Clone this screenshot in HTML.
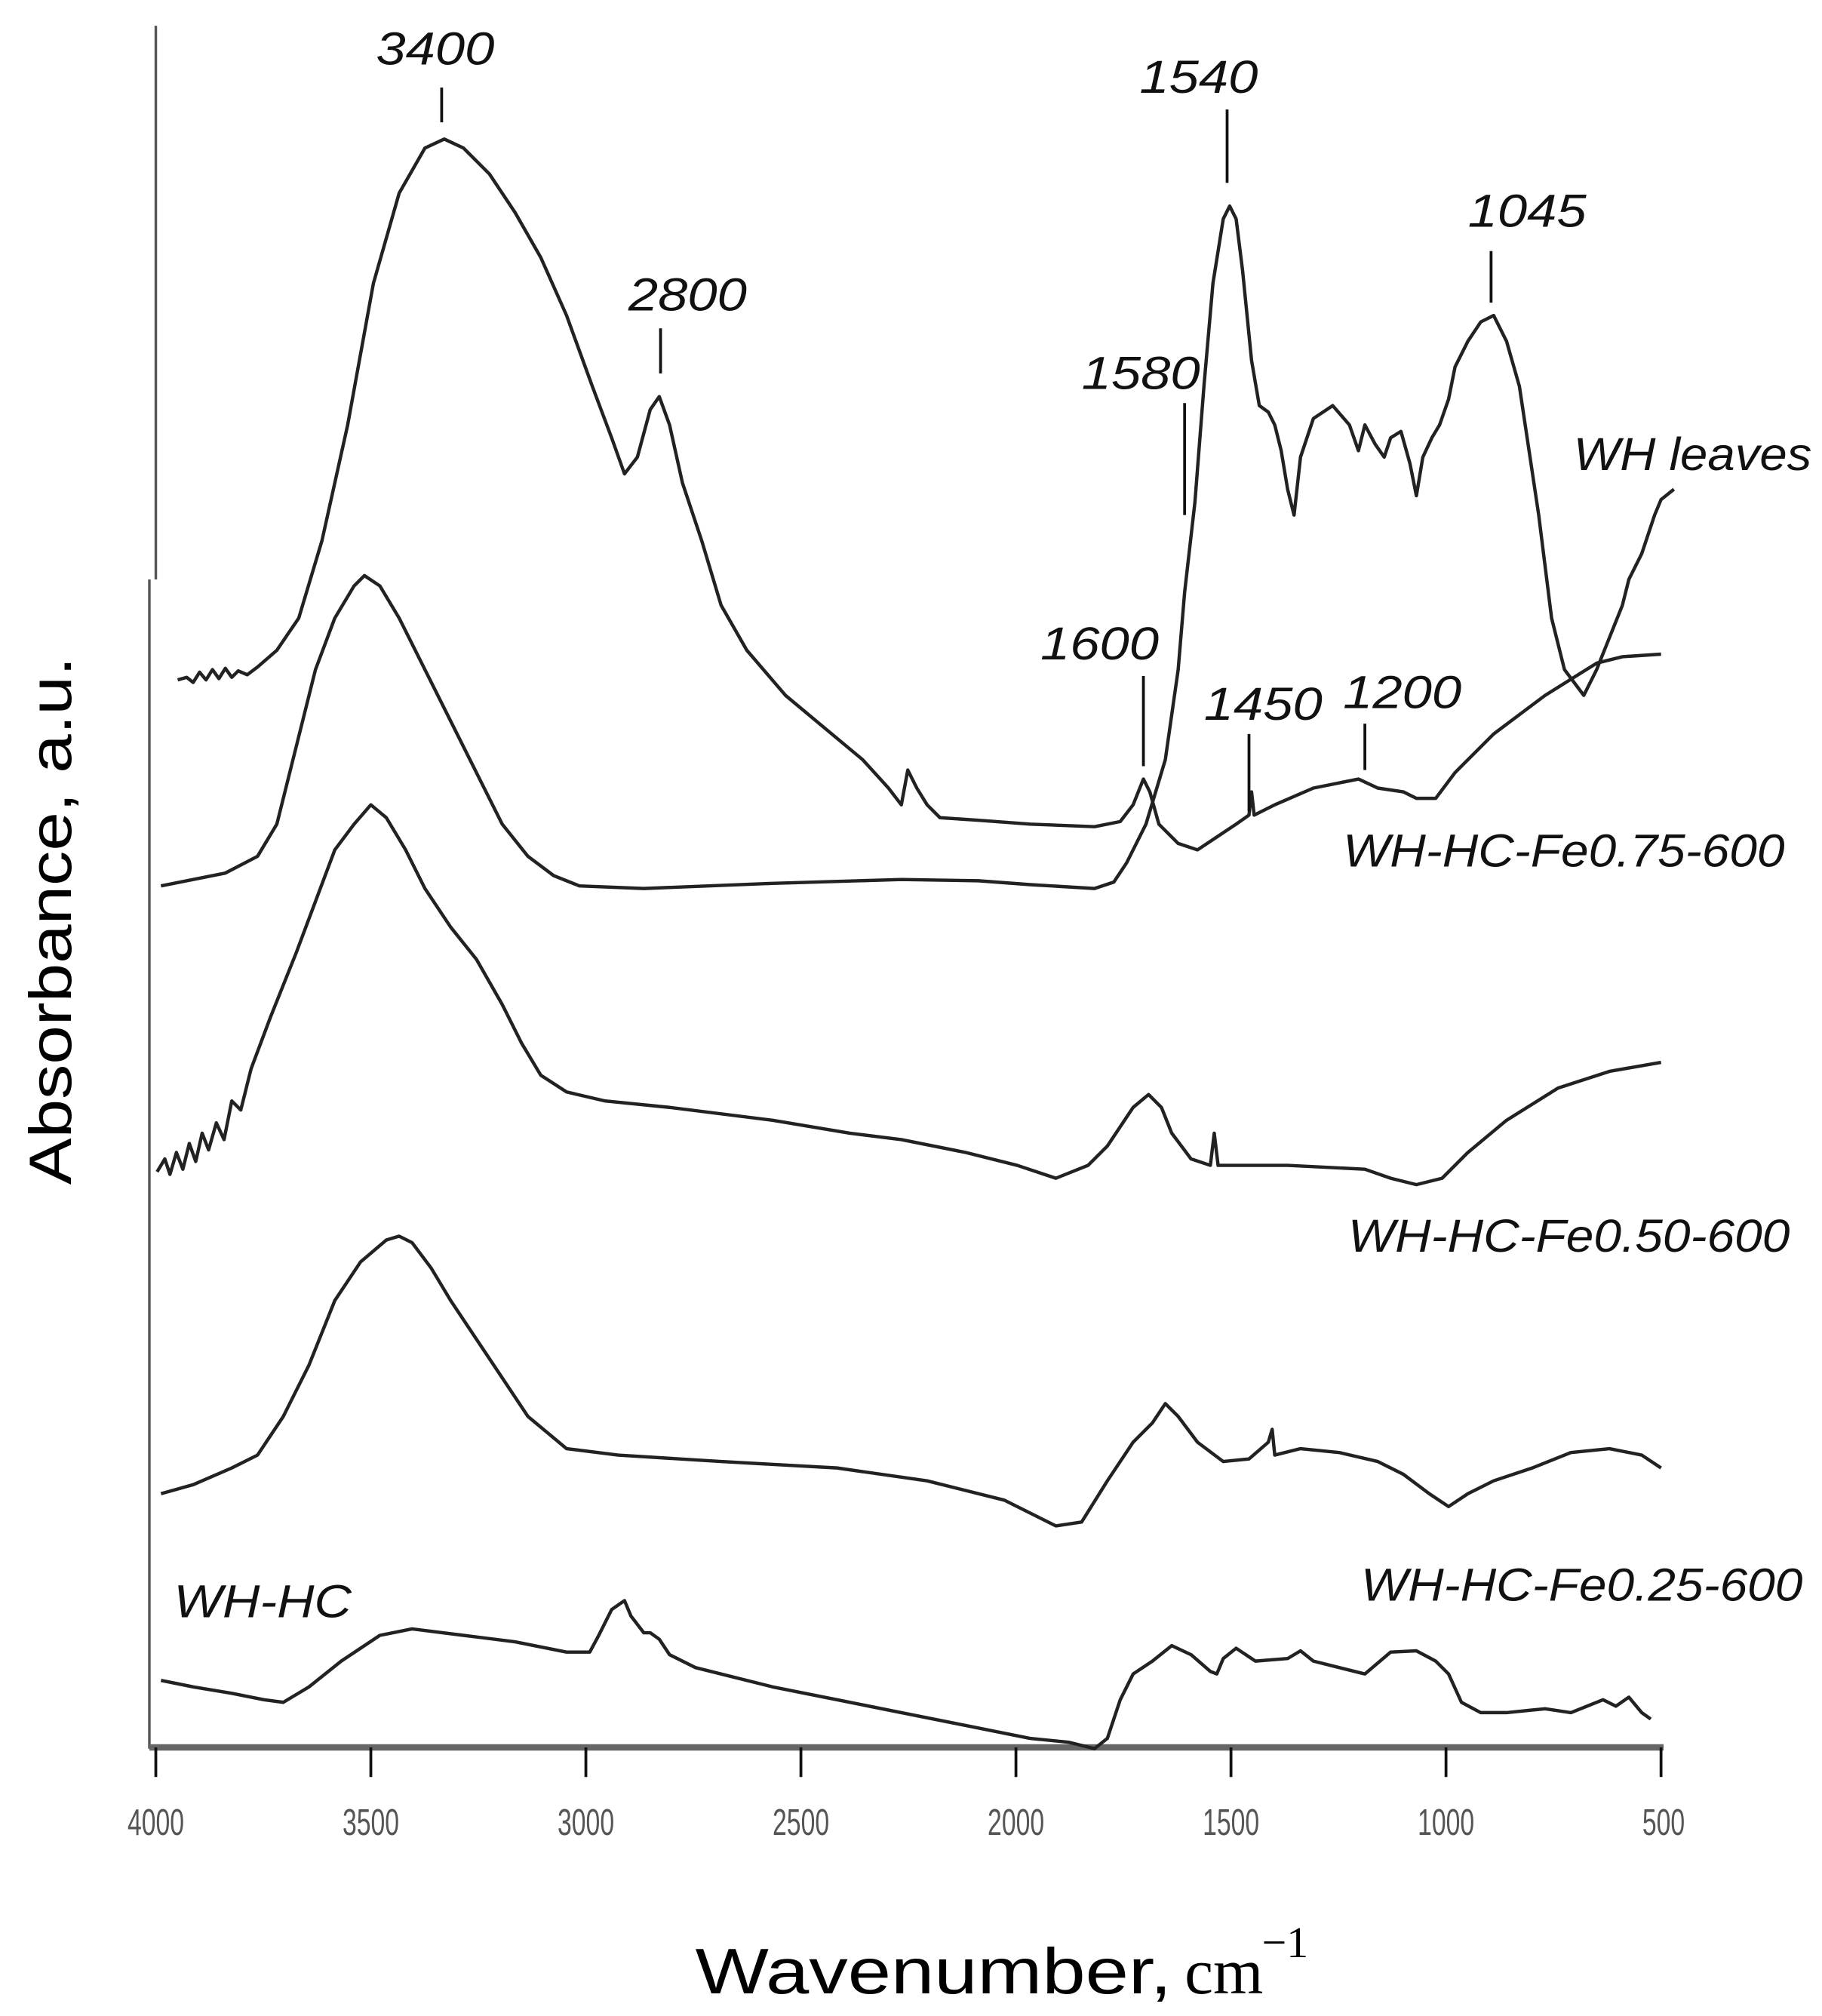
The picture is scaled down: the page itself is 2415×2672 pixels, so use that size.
<!DOCTYPE html>
<html><head><meta charset="utf-8"><style>
html,body{margin:0;padding:0;background:#fff;}
svg{display:block;}
.a{font-family:"Liberation Sans",sans-serif;font-style:italic;font-size:36px;fill:#111;}
.t{font-family:"Liberation Sans",sans-serif;font-size:29px;fill:#555;}
path.c{fill:none;stroke:#222;stroke-width:2.6;stroke-linejoin:round;}
line{stroke:#111;stroke-width:2.2;}
</style></head><body>
<svg width="2415" height="2672" viewBox="0 0 1415 1565.6" xmlns="http://www.w3.org/2000/svg">
<rect width="1415" height="1565.6" fill="#fff"/>
<line x1="121" y1="20" x2="121" y2="450" style="stroke:#555;stroke-width:2"/>
<line x1="116" y1="450" x2="116" y2="1358" style="stroke:#555;stroke-width:2"/>
<line x1="116" y1="1357" x2="1292" y2="1357" style="stroke:#666;stroke-width:5"/>
<g style="stroke:#444;stroke-width:1.5">
<line x1="121" y1="1357" x2="121" y2="1380"/><line x1="288" y1="1357" x2="288" y2="1380"/>
<line x1="455" y1="1357" x2="455" y2="1380"/><line x1="622" y1="1357" x2="622" y2="1380"/>
<line x1="789" y1="1357" x2="789" y2="1380"/><line x1="956" y1="1357" x2="956" y2="1380"/>
<line x1="1123" y1="1357" x2="1123" y2="1380"/><line x1="1290" y1="1357" x2="1290" y2="1380"/>
</g>
<g class="t" text-anchor="middle">
<text x="121" y="1425" textLength="44" lengthAdjust="spacingAndGlyphs">4000</text><text x="288" y="1425" textLength="44" lengthAdjust="spacingAndGlyphs">3500</text><text x="455" y="1425" textLength="44" lengthAdjust="spacingAndGlyphs">3000</text>
<text x="622" y="1425" textLength="44" lengthAdjust="spacingAndGlyphs">2500</text><text x="789" y="1425" textLength="44" lengthAdjust="spacingAndGlyphs">2000</text><text x="956" y="1425" textLength="44" lengthAdjust="spacingAndGlyphs">1500</text>
<text x="1123" y="1425" textLength="44" lengthAdjust="spacingAndGlyphs">1000</text><text x="1292" y="1425" textLength="33" lengthAdjust="spacingAndGlyphs">500</text>
</g>
<text x="540" y="1548" font-family="Liberation Sans,sans-serif" font-size="50" textLength="370" lengthAdjust="spacingAndGlyphs">Wavenumber,</text>
<text x="920" y="1548" font-family="Liberation Serif,serif" font-size="50">cm</text>
<text x="980" y="1520" font-family="Liberation Serif,serif" font-size="34">−1</text>
<text transform="translate(55,715) rotate(-90)" text-anchor="middle" font-family="Liberation Sans,sans-serif" font-size="46" textLength="410" lengthAdjust="spacingAndGlyphs">Absorbance, a.u.</text>

<path class="c" d="M138,528 L145,526 L150,530 L155,522 L160,528 L165,520 L170,527 L175,519 L180,526 L185,521 L192,524 L200,518 L215,505 L232,480 L250,420 L270,330 L290,220 L310,150 L330,115 L345,108 L360,115 L380,135 L400,165 L420,200 L440,245 L460,300 L475,340 L485,368 L495,355 L505,318 L512,308 L520,330 L530,375 L545,420 L560,470 L580,505 L610,540 L640,565 L670,590 L690,612 L700,625 L705,598 L712,612 L720,625 L730,635 L760,637 L800,640 L850,642 L870,638 L880,625 L888,605 L893,615 L900,640 L915,655 L930,660 L945,650 L960,640 L970,633 L972,615 L974,633 L990,625 L1020,612 L1055,605 L1070,612 L1090,615 L1100,620 L1115,620 L1130,600 L1160,570 L1200,540 L1240,515 L1260,510 L1290,508"/>
<path class="c" d="M125,688 L150,683 L175,678 L200,665 L215,640 L230,580 L245,520 L260,480 L275,455 L283,447 L295,455 L310,480 L330,520 L350,560 L370,600 L390,640 L410,665 L430,680 L450,688 L500,690 L600,686 L700,683 L760,684 L800,687 L850,690 L865,685 L875,670 L890,640 L905,590 L915,520 L920,460 L928,390 L935,300 L942,220 L950,170 L955,160 L960,170 L965,210 L972,280 L978,315 L985,320 L990,330 L995,350 L1000,380 L1005,400 L1010,355 L1020,325 L1035,315 L1048,330 L1055,350 L1060,330 L1068,345 L1075,355 L1080,340 L1088,335 L1095,360 L1100,385 L1105,355 L1112,340 L1118,330 L1125,310 L1130,285 L1140,265 L1150,250 L1160,245 L1170,265 L1180,300 L1195,400 L1205,480 L1215,520 L1230,540 L1240,520 L1250,495 L1260,470 L1265,450 L1275,430 L1285,400 L1290,388 L1300,380"/>
<path class="c" d="M122,910 L128,900 L132,912 L137,895 L142,908 L147,888 L152,902 L157,880 L162,893 L168,872 L174,885 L180,855 L187,862 L195,830 L210,790 L230,740 L245,700 L260,660 L275,640 L288,625 L300,635 L315,660 L330,690 L350,720 L370,745 L390,780 L405,810 L420,835 L440,848 L470,855 L520,860 L600,870 L660,880 L700,885 L750,895 L790,905 L820,915 L845,905 L860,890 L880,860 L892,850 L902,860 L910,880 L925,900 L940,905 L943,880 L946,905 L970,905 L1000,905 L1060,908 L1080,915 L1100,920 L1120,915 L1140,895 L1170,870 L1210,845 L1250,832 L1290,825"/>
<path class="c" d="M125,1160 L150,1153 L180,1140 L200,1130 L220,1100 L240,1060 L260,1010 L280,980 L300,963 L310,960 L320,965 L335,985 L350,1010 L370,1040 L390,1070 L410,1100 L440,1125 L480,1130 L560,1135 L650,1140 L720,1150 L780,1165 L820,1185 L840,1182 L860,1150 L880,1120 L895,1105 L905,1090 L915,1100 L930,1120 L950,1135 L970,1133 L985,1120 L988,1110 L990,1130 L1010,1125 L1040,1128 L1070,1135 L1090,1145 L1110,1160 L1125,1170 L1140,1160 L1160,1150 L1190,1140 L1220,1128 L1250,1125 L1275,1130 L1290,1140"/>
<path class="c" d="M125,1305 L150,1310 L180,1315 L205,1320 L220,1322 L240,1310 L265,1290 L295,1270 L320,1265 L360,1270 L400,1275 L440,1283 L458,1283 L465,1270 L475,1250 L485,1243 L490,1255 L500,1268 L505,1268 L512,1273 L520,1285 L540,1295 L600,1310 L650,1320 L700,1330 L750,1340 L800,1350 L830,1353 L850,1358 L860,1350 L870,1320 L880,1300 L895,1290 L910,1278 L925,1285 L940,1298 L945,1300 L950,1288 L960,1280 L975,1290 L1000,1288 L1010,1282 L1020,1290 L1040,1295 L1060,1300 L1080,1283 L1100,1282 L1115,1290 L1125,1300 L1135,1322 L1150,1330 L1170,1330 L1200,1327 L1220,1330 L1245,1320 L1255,1325 L1265,1318 L1275,1330 L1282,1335"/>

<line x1="343" y1="68" x2="343" y2="95"/>
<line x1="953" y1="85" x2="953" y2="142"/>
<line x1="1158" y1="195" x2="1158" y2="235"/>
<line x1="513" y1="255" x2="513" y2="290"/>
<line x1="920" y1="313" x2="920" y2="400"/>
<line x1="888" y1="525" x2="888" y2="595"/>
<line x1="970" y1="570" x2="970" y2="630"/>
<line x1="1060" y1="562" x2="1060" y2="598"/>

<g class="a">
<text x="292" y="50" textLength="92" lengthAdjust="spacingAndGlyphs">3400</text>
<text x="885" y="72" textLength="92" lengthAdjust="spacingAndGlyphs">1540</text>
<text x="1140" y="176" textLength="92" lengthAdjust="spacingAndGlyphs">1045</text>
<text x="488" y="241" textLength="92" lengthAdjust="spacingAndGlyphs">2800</text>
<text x="840" y="302" textLength="92" lengthAdjust="spacingAndGlyphs">1580</text>
<text x="808" y="512" textLength="92" lengthAdjust="spacingAndGlyphs">1600</text>
<text x="935" y="559" textLength="92" lengthAdjust="spacingAndGlyphs">1450</text>
<text x="1043" y="550" textLength="92" lengthAdjust="spacingAndGlyphs">1200</text>
<text x="1222" y="365" textLength="185" lengthAdjust="spacingAndGlyphs">WH leaves</text>
<text x="1043" y="673" textLength="343" lengthAdjust="spacingAndGlyphs">WH-HC-Fe0.75-600</text>
<text x="1047" y="972" textLength="343" lengthAdjust="spacingAndGlyphs">WH-HC-Fe0.50-600</text>
<text x="1057" y="1243" textLength="343" lengthAdjust="spacingAndGlyphs">WH-HC-Fe0.25-600</text>
<text x="135" y="1256" textLength="138" lengthAdjust="spacingAndGlyphs">WH-HC</text>
</g>
</svg>
</body></html>
